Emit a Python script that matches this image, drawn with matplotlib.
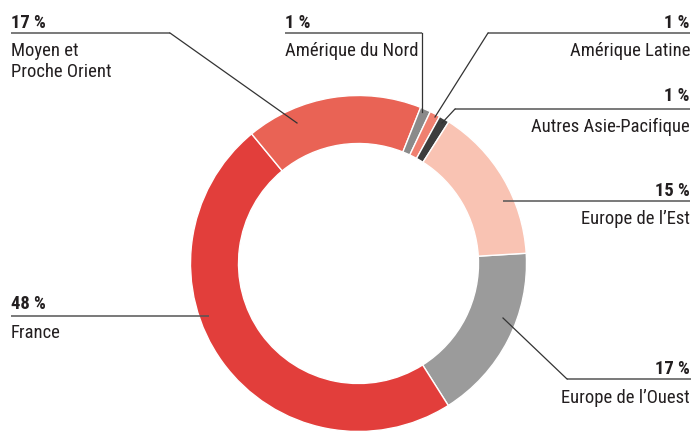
import matplotlib
matplotlib.use("Agg")
import matplotlib.pyplot as plt
from matplotlib import font_manager

# ---- data ----
regions = ["Europe de l\u2019Ouest", "France", "Moyen et\nProche Orient",
           "Amérique du Nord", "Amérique Latine", "Autres Asie-Pacifique",
           "Europe de l\u2019Est"]
shares = [17, 48, 17, 1, 1, 1, 15]
share_labels = ["17 %", "48 %", "17 %", "1 %", "1 %", "1 %", "15 %"]
colors = ["#9b9b9b", "#e23e3b", "#e96355", "#8a8a8a", "#ef8070",
          "#3d3d3d", "#f9c3b3"]

# ---- font ----
names = {f.name for f in font_manager.fontManager.ttflist}
family = None
for cand in ["Liberation Sans Narrow", "Roboto Condensed", "Liberation Sans"]:
    if cand in names:
        family = cand
        break
plt.rcParams['font.family'] = [family, 'DejaVu Sans'] if family else ['DejaVu Sans']

W, H = 697, 435
fig = plt.figure(figsize=(W / 100, H / 100), dpi=100)
ax = fig.add_axes([0, 0, 1, 1])

cx, cy, R = 358.5, H - 264.5, 168
wedges, _ = ax.pie(shares, colors=colors, startangle=3.5, counterclock=False,
                   center=(cx, cy), radius=R,
                   wedgeprops=dict(width=48, edgecolor="white", linewidth=1.0))
ax.set_xlim(0, W)
ax.set_ylim(0, H)
ax.set_aspect("equal")
ax.axis("off")

txt = "#231f20"
fs = 13.4
lc = "#333333"

def hline(x0, x1, y):
    ax.plot([x0, x1], [H - y, H - y], color="#555555", lw=1.1, solid_capstyle="butt")

def leader(pts):
    xs = [p[0] for p in pts]
    ys = [H - p[1] for p in pts]
    ax.plot(xs, ys, color=lc, lw=0.9)

# label layout: (index, align, x, pct_baseline, line_y, name_baseline, leader pts, hline span)
layout = [
    (2, "left", 11, 28, 34, 56, [(297, 124), (170, 34)], (11, 170)),
    (3, "left", 285, 28, 34, 56, [(422, 113), (422, 34)], (285, 422)),
    (4, "right", 690, 28, 34, 56, [(435, 118), (488, 34)], (488, 690)),
    (5, "right", 690, 101, 110, 132, [(442, 124), (455, 110)], (455, 690)),
    (6, "right", 690, 196, 202, 224, [], (503, 690)),
    (0, "right", 690, 374, 380, 403, [(503, 319), (567, 380)], (567, 691)),
    (1, "left", 11, 309, 317, 338, [], (11, 209)),
]

for idx, ha, x, yp, yl, yn, pts, (hx0, hx1) in layout:
    ax.text(x, H - yp, share_labels[idx], ha=ha, va="baseline", fontsize=fs,
            fontweight="bold", color=txt)
    name = regions[idx]
    lines = name.split("\n")
    for k, ln in enumerate(lines):
        ax.text(x, H - (yn + 21 * k), ln, ha=ha, va="baseline", fontsize=fs,
                color=txt)
    hline(hx0, hx1, yl)
    if pts:
        leader(pts)

fig.savefig("out.png", dpi=100)
